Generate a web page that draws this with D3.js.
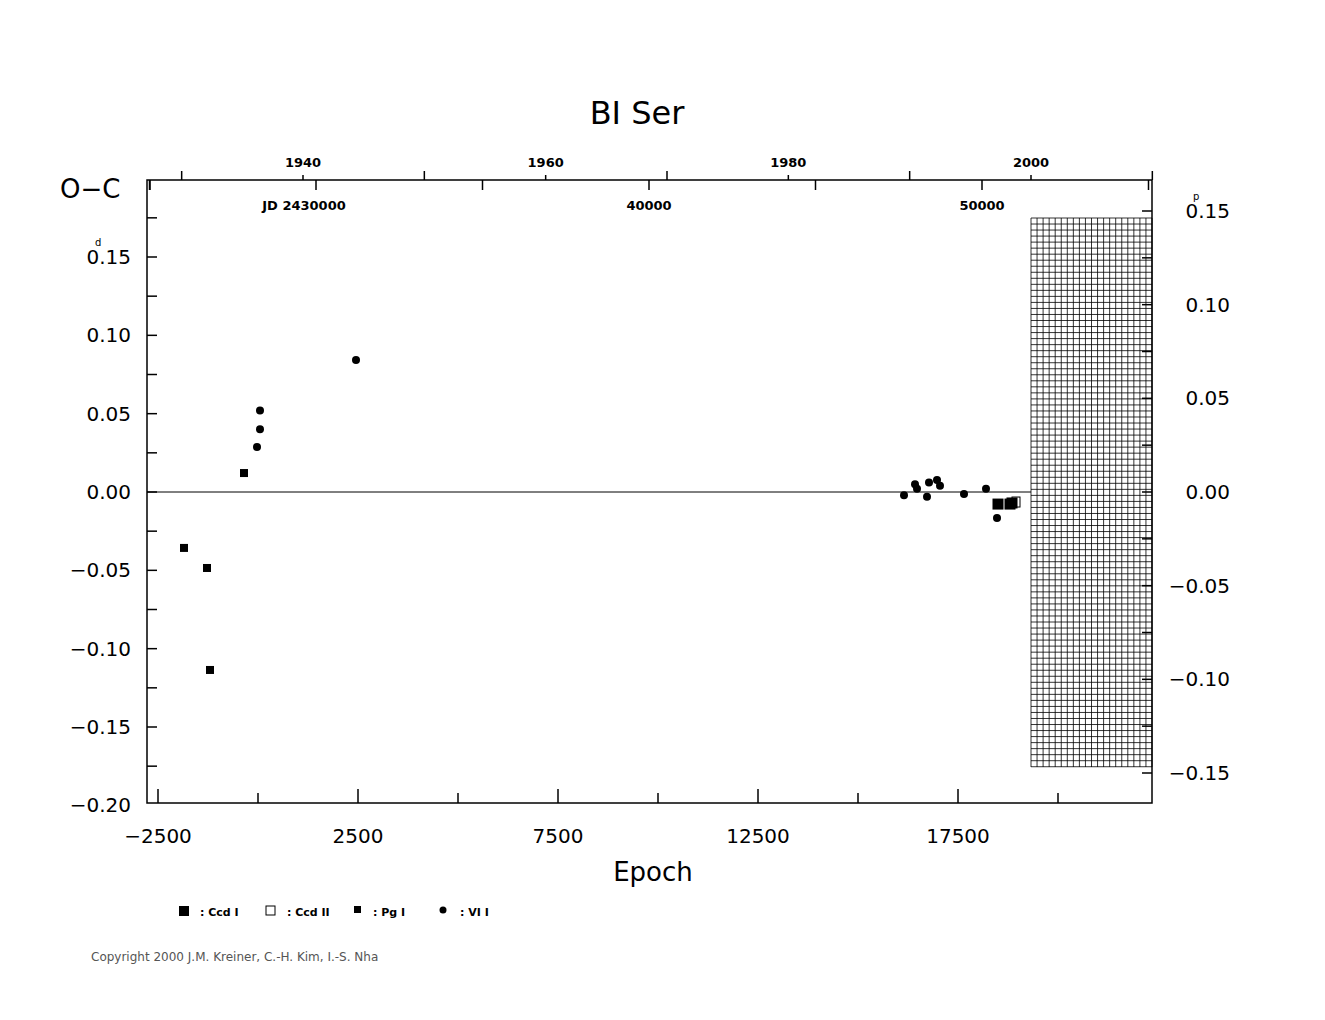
<!DOCTYPE html>
<html><head><meta charset="utf-8">
<script src="https://cdn.jsdelivr.net/npm/d3@7"></script>
<style>body{margin:0;background:#fff}text{font-family:"DejaVu Sans",sans-serif}</style>
</head><body>
<script>
// O-C data: [epoch, O-C (days)]
const pgI = [[-1850,-0.0357],[-1275,-0.0485],[-1200,-0.1136],[-350,0.0121]];
const viI = [[-25,0.0287],[50,0.040],[50,0.052],[2450,0.0842],[16150,-0.002],[16425,0.005],[16475,0.002],
  [16725,-0.003],[16775,0.006],[16975,0.0077],[17050,0.004],[17650,-0.0013],[18200,0.002],[18475,-0.0166]];
const ccdI = [[18500,-0.0077],[18800,-0.0077],[18850,-0.007]];
const ccdII = [[18950,-0.0064]];
const epochTicks = [-2500,2500,7500,12500,17500];
const ocTicks = [-0.20,-0.15,-0.10,-0.05,0,0.05,0.10,0.15];
const phaseTicks = [-0.15,-0.10,-0.05,0,0.05,0.10,0.15];
const yearTicks = [1940,1960,1980,2000];
const jdTicks = [[30000,"JD 2430000"],[40000,"40000"],[50000,"50000"]];

const W=1325,H=1020, L=147,R=1152,T=180,B=803;
const svg=d3.select("body").append("svg").attr("width",W).attr("height",H);
const x=d3.scaleLinear().domain([-2500,17500]).range([158,958]);
const y=d3.scaleLinear().domain([0,0.15]).range([492,257]);
const yr=d3.scaleLinear().domain([0,0.15]).range([492,211]);
const xYear=d3.scaleLinear().domain([1940,2000]).range([303,1031]);
const xJD=d3.scaleLinear().domain([30000,50000]).range([316,982]);

// hatched region
const hg=svg.append("g").attr("stroke","#000").attr("stroke-width",0.8);
const hx0=1031,hx1=1152,hy0=218,hy1=767;
for(let xx=hx0;xx<=hx1;xx+=6.05) hg.append("line").attr("x1",xx).attr("x2",xx).attr("y1",hy0).attr("y2",hy1);
for(let yy=hy0;yy<=hy1;yy+=6.03) hg.append("line").attr("x1",hx0).attr("x2",hx1).attr("y1",yy).attr("y2",yy);

svg.append("rect").attr("x",L).attr("y",T).attr("width",R-L).attr("height",B-T)
  .attr("fill","none").attr("stroke","#000").attr("stroke-width",1.5);
svg.append("line").attr("x1",L).attr("x2",hx0).attr("y1",y(0)).attr("y2",y(0)).attr("stroke","#000");

const g=svg.append("g").attr("stroke","#000").attr("stroke-width",1.5);
// bottom epoch ticks
for(let e=-2500;e<=22500;e+=2500){const px=x(e);if(px<L||px>R)continue;
  g.append("line").attr("x1",px).attr("x2",px).attr("y1",B).attr("y2",B-(epochTicks.includes(e)?14:10));}
epochTicks.forEach(e=>svg.append("text").attr("x",x(e)).attr("y",843).attr("text-anchor","middle")
  .attr("font-size",20).text(e<0?"\u2212"+Math.abs(e):e));
// left ticks
for(let v=-0.2;v<=0.2001;v+=0.025){const py=y(v);if(py<T||py>B)continue;
  g.append("line").attr("x1",L).attr("x2",L+10).attr("y1",py).attr("y2",py);}
ocTicks.forEach(v=>svg.append("text").attr("x",131).attr("y",y(v)+7).attr("text-anchor","end")
  .attr("font-size",20).text(v<0?"\u2212"+Math.abs(v).toFixed(2):v.toFixed(2)));
svg.append("text").attr("x",95).attr("y",y(0.15)-11).attr("font-size",10).text("d");
// right ticks
for(let v=-0.15;v<=0.1501;v+=0.025){const py=yr(v);
  g.append("line").attr("x1",R).attr("x2",R-10).attr("y1",py).attr("y2",py);}
phaseTicks.forEach(v=>svg.append("text").attr("x",1230).attr("y",yr(v)+7).attr("text-anchor","end")
  .attr("font-size",20).text(v<0?"\u2212"+Math.abs(v).toFixed(2):v.toFixed(2)));
svg.append("text").attr("x",1193).attr("y",yr(0.15)-11).attr("font-size",10).text("p");
// top year ticks (outside) and JD ticks (inside)
for(let yv=1930;yv<=2010;yv+=10){const px=xYear(yv);if(px<L||px>R+1)continue;
  g.append("line").attr("x1",px).attr("x2",px).attr("y1",T).attr("y2",T-(yv%20===0?5:9));}
yearTicks.forEach(yv=>svg.append("text").attr("x",xYear(yv)).attr("y",167).attr("text-anchor","middle")
  .attr("font-size",13).attr("font-weight","bold").text(yv));
for(let j=25000;j<=55000;j+=5000){const px=xJD(j);if(px<L||px>R)continue;
  g.append("line").attr("x1",px).attr("x2",px).attr("y1",T).attr("y2",T+10);}
g.append("line").attr("x1",150).attr("x2",150).attr("y1",T).attr("y2",T+10);
jdTicks.forEach(([j,t])=>svg.append("text").attr("x",xJD(j)-(j===30000?12:0)).attr("y",210).attr("text-anchor","middle")
  .attr("font-size",13).attr("font-weight","bold").text(t));

// titles
svg.append("text").attr("x",637).attr("y",124).attr("text-anchor","middle").attr("font-size",32).text("BI  Ser");
svg.append("text").attr("x",60).attr("y",198).attr("font-size",26).text("O\u2212C");
svg.append("text").attr("x",653).attr("y",881).attr("text-anchor","middle").attr("font-size",26).text("Epoch");

// data
svg.append("g").selectAll("rect").data(pgI).join("rect").attr("x",d=>x(d[0])-4).attr("y",d=>y(d[1])-4)
  .attr("width",8).attr("height",8).attr("fill","#000");
svg.append("g").selectAll("circle").data(viI).join("circle").attr("cx",d=>x(d[0])).attr("cy",d=>y(d[1]))
  .attr("r",4).attr("fill","#000");
svg.append("g").selectAll("rect").data(ccdII).join("rect").attr("x",d=>x(d[0])-4).attr("y",d=>y(d[1])-5)
  .attr("width",8).attr("height",10).attr("fill","#fff").attr("stroke","#000");
svg.append("g").selectAll("rect").data(ccdI).join("rect").attr("x",d=>x(d[0])-5.5).attr("y",d=>y(d[1])-5.5)
  .attr("width",11).attr("height",11).attr("fill","#000");

// legend
const lg=svg.append("g").attr("font-size",11).attr("font-weight","bold");
lg.append("rect").attr("x",179).attr("y",906).attr("width",10).attr("height",10).attr("fill","#000");
lg.append("text").attr("x",200).attr("y",916).text(": Ccd  I");
lg.append("rect").attr("x",266).attr("y",906).attr("width",9).attr("height",9).attr("fill","#fff").attr("stroke","#000");
lg.append("text").attr("x",287).attr("y",916).text(": Ccd  II");
lg.append("rect").attr("x",354).attr("y",906).attr("width",7).attr("height",7).attr("fill","#000");
lg.append("text").attr("x",373).attr("y",916).text(": Pg  I");
lg.append("circle").attr("cx",443).attr("cy",910).attr("r",3.5).attr("fill","#000");
lg.append("text").attr("x",460).attr("y",916).text(": VI  I");
svg.append("text").attr("x",91).attr("y",961).attr("font-size",12).attr("fill","#555")
  .text("Copyright 2000 J.M. Kreiner, C.-H. Kim, I.-S. Nha");
</script>
</body></html>
